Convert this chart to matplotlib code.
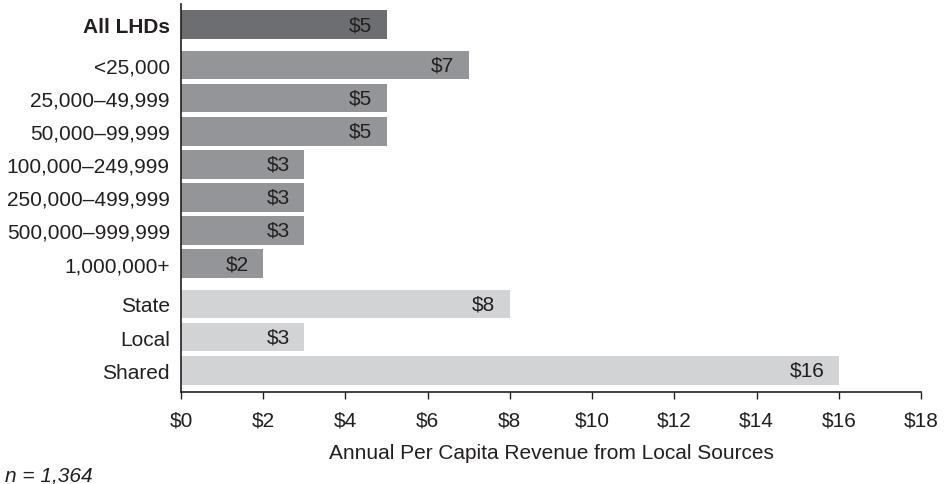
import matplotlib
matplotlib.use('Agg')
import matplotlib.pyplot as plt
import numpy as np

plt.rcParams['font.family'] = ['Liberation Sans', 'DejaVu Sans']

# data
labels = ['All LHDs', '<25,000', '25,000–49,999', '50,000–99,999', '100,000–249,999',
          '250,000–499,999', '500,000–999,999', '1,000,000+', 'State', 'Local', 'Shared']
values = [5, 7, 5, 5, 3, 3, 3, 2, 8, 3, 16]
groups = ['all', 'pop', 'pop', 'pop', 'pop', 'pop', 'pop', 'pop', 'gov', 'gov', 'gov']
xticks = [0, 2, 4, 6, 8, 10, 12, 14, 16, 18]

colors = {'all': '#6d6e71', 'pop': '#939598', 'gov': '#d1d3d4'}
fs = 15

# row positions with small gaps between groups
ypos = []
y = 0.0
prev = None
for g in groups:
    if prev is not None:
        y += 1.0 if g == prev else 1.22
    ypos.append(y)
    prev = g

fig = plt.figure(figsize=(9.48, 4.85), dpi=100)
ax = fig.add_axes([0.1909, 0.1897, 0.7806, 0.800])

ax.barh(ypos, values, height=0.87, color=[colors[g] for g in groups])

for yy, v in zip(ypos, values):
    ax.text(v - 0.35, yy, '$%d' % v, ha='right', va='center', fontsize=fs, color='#231f20')

ax.set_ylim(ypos[-1] + 0.66, -0.62)
ax.set_xlim(0, 18)
ax.set_yticks(ypos)
ax.set_yticklabels(labels, fontsize=fs, color='#231f20')
ax.get_yticklabels()[0].set_fontweight('bold')
ax.tick_params(axis='y', length=0, pad=8)
ax.set_xticks(xticks)
ax.set_xticklabels(['$%d' % t for t in xticks], fontsize=fs, color='#231f20')
ax.tick_params(axis='x', length=5, width=1, direction='out', pad=8, color='#231f20')

for s in ['top', 'right']:
    ax.spines[s].set_visible(False)
for s in ['left', 'bottom']:
    ax.spines[s].set_linewidth(1.2)
    ax.spines[s].set_color('#231f20')

ax.set_xlabel('Annual Per Capita Revenue from Local Sources', fontsize=fs, color='#231f20', labelpad=10)
fig.text(0.005, 0.008, 'n = 1,364', fontsize=fs, style='italic', color='#231f20')

fig.savefig('out.png', dpi=100)
